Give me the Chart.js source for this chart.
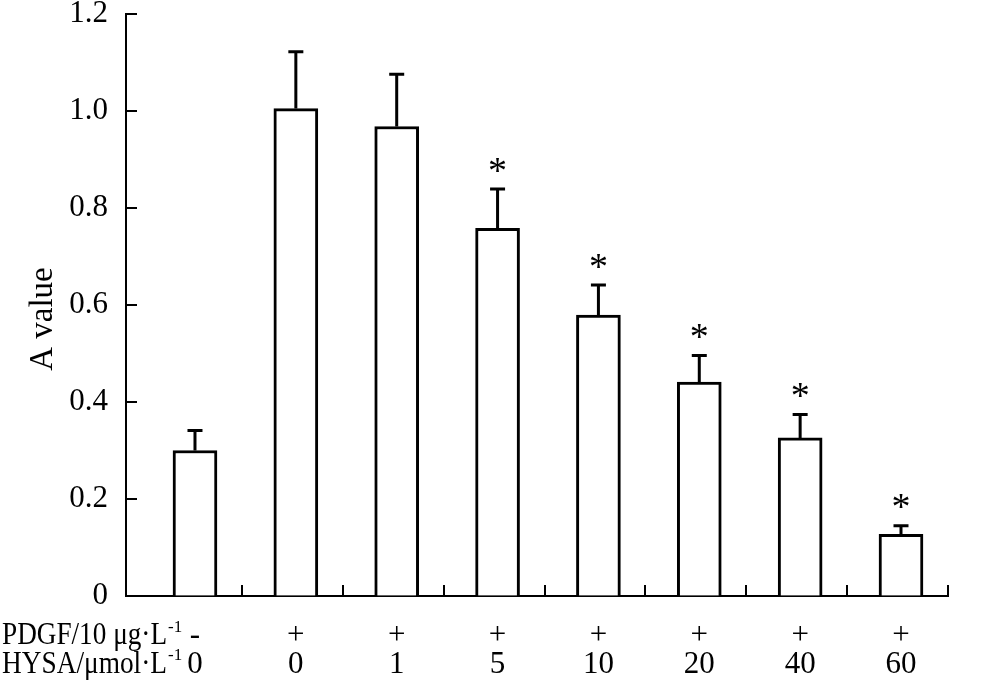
<!DOCTYPE html>
<html>
<head>
<meta charset="utf-8">
<script src="https://cdn.jsdelivr.net/npm/chart.js@4.4.1/dist/chart.umd.min.js"></script>
<style>
  html, body { margin: 0; padding: 0; background: #fff; }
  #wrap { width: 990px; height: 693px; }
</style>
</head>
<body>
<div id="wrap"><canvas id="chart" width="990" height="693"></canvas></div>
<script>
const pdgfLabels = ["-", "+", "+", "+", "+", "+", "+", "+"];
const hysaLabels = ["0", "0", "1", "5", "10", "20", "40", "60"];
const meanValues = [0.30, 1.005, 0.968, 0.758, 0.579, 0.441, 0.326, 0.127];
const sdValues = [0.041, 0.117, 0.108, 0.081, 0.062, 0.055, 0.048, 0.018];
const significant = [false, false, false, true, true, true, true, true];
const yTickValues = [0.2, 0.4, 0.6, 0.8, 1.0, 1.2];

const FONT = '"Liberation Serif", "Times New Roman", serif';

// ticks on the x axis sit between the groups
const boundaryTicks = pdgfLabels.map((_, i) => i + 0.466);

function drawCondensed(ctx, text, x, y, width) {
  const w = ctx.measureText(text).width;
  ctx.save();
  ctx.translate(x, y);
  ctx.scale(width / w, 1);
  ctx.textAlign = "left";
  ctx.fillText(text, 0, 0);
  ctx.restore();
}

const errorBarPlugin = {
  id: "errorBars",
  afterDatasetsDraw(chart) {
    const { ctx, scales: { x, y } } = chart;
    ctx.save();
    ctx.strokeStyle = "#000";
    ctx.fillStyle = "#000";
    ctx.lineWidth = 3;
    ctx.font = `38px ${FONT}`;
    ctx.textAlign = "center";
    ctx.textBaseline = "alphabetic";

    meanValues.forEach((mean, i) => {
      const px = x.getPixelForValue(i);
      const base = y.getPixelForValue(mean);
      const top = y.getPixelForValue(mean + sdValues[i]);

      ctx.beginPath();
      ctx.moveTo(px, base);
      ctx.lineTo(px, top);
      ctx.moveTo(px - 7.5, top);
      ctx.lineTo(px + 7.5, top);
      ctx.stroke();

      if (significant[i]) {
        const m = ctx.measureText("*");
        const target = top - 24;
        const baseline = target + (m.actualBoundingBoxAscent - m.actualBoundingBoxDescent) / 2;
        ctx.fillText("*", px, baseline);
      }
    });
    ctx.restore();
  }
};

const axisDecorPlugin = {
  id: "axisDecor",
  afterDraw(chart) {
    const { ctx, chartArea, scales: { x, y } } = chart;
    ctx.save();
    ctx.strokeStyle = "#000";
    ctx.lineWidth = 2;

    // inward tick marks
    ctx.beginPath();
    yTickValues.forEach(v => {
      const py = Math.round(y.getPixelForValue(v));
      ctx.moveTo(chartArea.left, py);
      ctx.lineTo(chartArea.left + 11, py);
    });
    boundaryTicks.forEach(v => {
      const px = Math.round(x.getPixelForValue(v));
      ctx.moveTo(px, chartArea.bottom);
      ctx.lineTo(px, chartArea.bottom - 11);
    });
    ctx.stroke();

    // y axis title
    ctx.fillStyle = "#000";
    ctx.font = `33px ${FONT}`;
    ctx.save();
    ctx.translate(52, 319);
    ctx.rotate(-Math.PI / 2);
    ctx.textAlign = "center";
    ctx.textBaseline = "alphabetic";
    ctx.fillText("A value", 0, 0);
    ctx.restore();

    // treatment rows under the axis
    ctx.font = `31px ${FONT}`;
    ctx.textAlign = "center";
    ctx.textBaseline = "alphabetic";
    pdgfLabels.forEach((t, i) => ctx.fillText(t, x.getPixelForValue(i), 644));
    hysaLabels.forEach((t, i) => ctx.fillText(t, x.getPixelForValue(i), 673));

    drawCondensed(ctx, "PDGF/10 μg·L", 2, 644, 165);
    drawCondensed(ctx, "HYSA/μmol·L", 2, 673, 165);

    ctx.font = `17px ${FONT}`;
    ctx.textAlign = "left";
    ctx.fillText("-1", 168, 632);
    ctx.fillText("-1", 168, 660);

    ctx.restore();
  }
};

new Chart(document.querySelector("#chart"), {
  type: "bar",
  data: {
    datasets: [
      {
        label: "A value",
        data: meanValues.map((v, i) => ({ x: i, y: v })),
        backgroundColor: "#fff",
        borderColor: "#000",
        borderWidth: 3,
        borderSkipped: "bottom",
        barThickness: 44
      }
    ]
  },
  options: {
    responsive: false,
    animation: false,
    layout: {
      padding: { top: 14, right: 42, bottom: 0, left: 0 }
    },
    plugins: {
      legend: { display: false },
      tooltip: { enabled: false }
    },
    scales: {
      x: {
        type: "linear",
        offset: false,
        min: -0.684,
        max: 7.466,
        ticks: { display: false },
        grid: { drawOnChartArea: false, drawTicks: false },
        border: { display: true, color: "#000", width: 2 },
        afterFit(scale) {
          scale.height = 97;
          scale.paddingLeft = 0;
          scale.paddingRight = 0;
        }
      },
      y: {
        min: 0,
        max: 1.2,
        ticks: {
          stepSize: 0.2,
          color: "#000",
          padding: 18,
          font: { family: FONT, size: 31 },
          callback: v => (v === 0 ? "0" : Number(v).toFixed(1))
        },
        grid: { drawOnChartArea: false, drawTicks: false },
        border: { display: true, color: "#000", width: 2 },
        afterFit(scale) {
          scale.width = 126;
          scale.paddingTop = 0;
          scale.paddingBottom = 0;
        }
      }
    }
  },
  plugins: [errorBarPlugin, axisDecorPlugin]
});
</script>
</body>
</html>
